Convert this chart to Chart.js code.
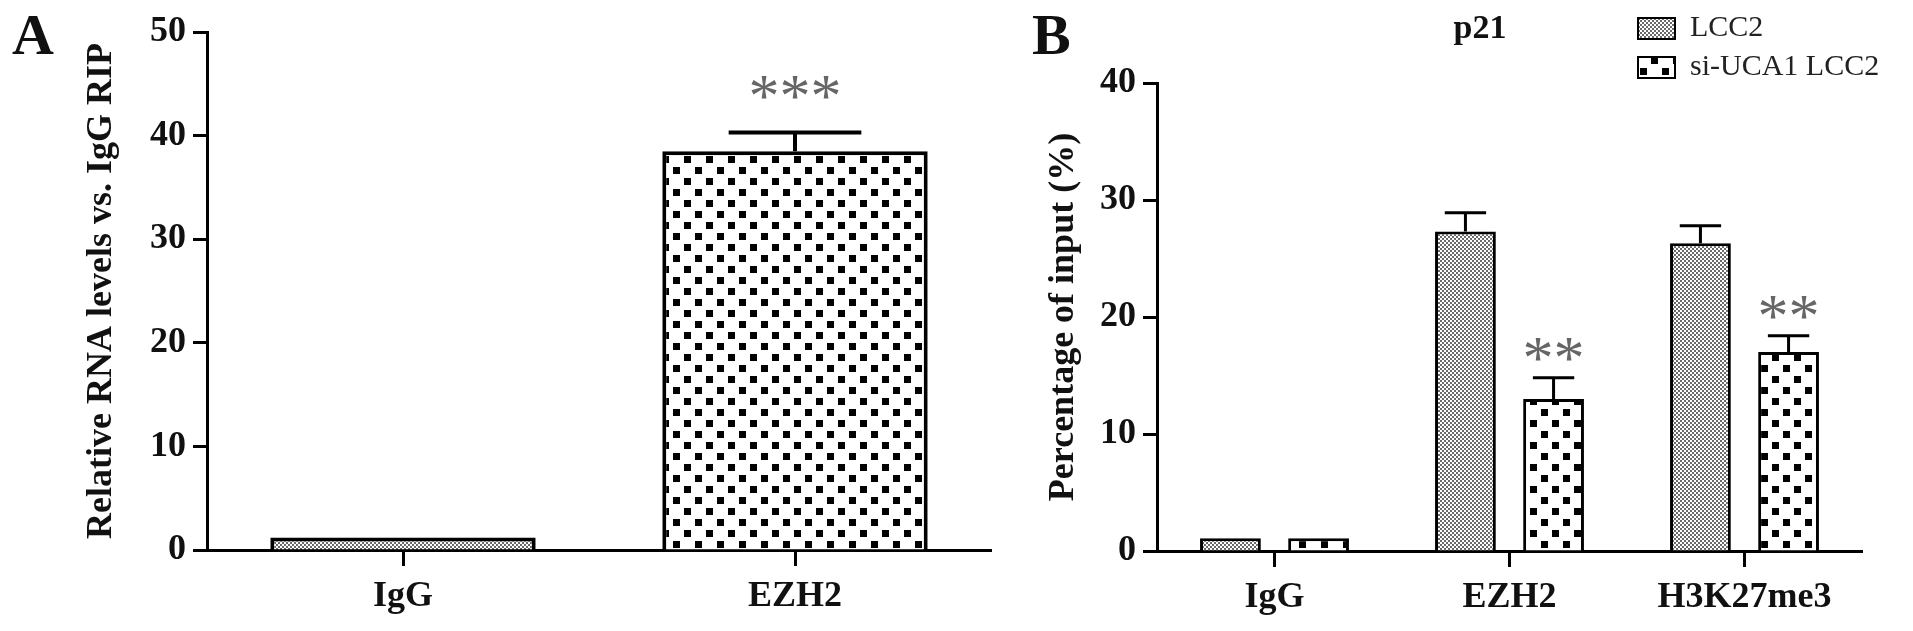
<!DOCTYPE html>
<html>
<head>
<meta charset="utf-8">
<script src="https://cdn.jsdelivr.net/npm/chart.js@4.4.0/dist/chart.umd.min.js"></script>
<style>
  html, body { margin: 0; padding: 0; background: #fff; }
  body { width: 1913px; height: 631px; position: relative; overflow: hidden; }
  .panel { position: absolute; top: 0; height: 631px; }
  #wrapA { left: 0; width: 1000px; }
  #wrapB { left: 1000px; width: 913px; }
  .letter { position: absolute; top: 6px; font: bold 58px 'Liberation Serif', serif; line-height: 1; color: #111; }
</style>
</head>
<body>
<div class="panel" id="wrapA"><canvas id="chartA"></canvas></div>
<div class="panel" id="wrapB"><canvas id="chartB"></canvas></div>
<div class="letter" style="left:12px">A</div>
<div class="letter" style="left:1032px">B</div>
<script>
/* ---------- data: panel A (RIP) ---------- */
const catsA = ['IgG', 'EZH2'];
const valsA = [1.2, 38.5];
const errA = [0, 1.8];
const starsA = ['', '***'];
const starPosA = [null, 44.6];
const yTicksA = [0, 10, 20, 30, 40, 50];

/* ---------- data: panel B (ChIP, p21) ---------- */
const catsB = ['IgG', 'EZH2', 'H3K27me3'];
const lcc2 = [1.1, 27.3, 26.3];
const lcc2Err = [0, 1.6, 1.5];
const siUca1 = [1.1, 13.0, 17.0];
const siUca1Err = [0, 1.8, 1.4];
const starsB = ['', '**', '**'];
const starPosB = [null, 17.2, 20.8];
const yTicksB = [0, 10, 20, 30, 40];

const SERIF = "'Liberation Serif', 'Times New Roman', serif";
const INK = '#111';

/* ---------- fill patterns ---------- */
function makePattern(size, spots, sq, color) {
  const c = document.createElement('canvas');
  c.width = size; c.height = size;
  const g = c.getContext('2d');
  g.fillStyle = '#fff';
  g.fillRect(0, 0, size, size);
  g.fillStyle = color;
  spots.forEach(([x, y]) => g.fillRect(x, y, sq, sq));
  return g.createPattern(c, 'repeat');
}
const finePat = makePattern(4, [[0, 0], [2, 2]], 2, '#6a6a6a');
const checkPat = makePattern(22, [[2, 2], [13, 13]], 7, '#000');

/* ---------- plugins ---------- */
const errorBars = {
  id: 'errorBars',
  afterDatasetsDraw(chart, args, opts) {
    const { ctx } = chart;
    const y = chart.scales.y;
    ctx.save();
    ctx.strokeStyle = '#000';
    ctx.lineWidth = opts.lineWidth || 3;
    chart.data.datasets.forEach((ds, i) => {
      chart.getDatasetMeta(i).data.forEach((bar, j) => {
        const e = ds.errors && ds.errors[j];
        if (!e) return;
        const top = y.getPixelForValue(ds.data[j] + e);
        const half = bar.width * opts.capRatio / 2;
        ctx.beginPath();
        ctx.moveTo(bar.x, bar.y);
        ctx.lineTo(bar.x, top);
        ctx.moveTo(bar.x - half, top);
        ctx.lineTo(bar.x + half, top);
        ctx.stroke();
      });
    });
    ctx.restore();
  }
};

const starMarks = {
  id: 'starMarks',
  afterDatasetsDraw(chart, args, opts) {
    const { ctx } = chart;
    const y = chart.scales.y;
    ctx.save();
    ctx.fillStyle = '#666';
    ctx.font = `${opts.size}px ${SERIF}`;
    ctx.textAlign = 'center';
    ctx.textBaseline = 'alphabetic';
    chart.data.datasets.forEach((ds, i) => {
      if (!ds.stars) return;
      chart.getDatasetMeta(i).data.forEach((bar, j) => {
        const s = ds.stars[j];
        if (!s) return;
        const m = ctx.measureText(s);
        const yc = y.getPixelForValue(ds.starPos[j]);
        ctx.fillText(s, bar.x, yc + (m.actualBoundingBoxAscent - m.actualBoundingBoxDescent) / 2);
      });
    });
    ctx.restore();
  }
};

const boxLegend = {
  id: 'boxLegend',
  afterDraw(chart, args, opts) {
    if (!opts.display) return;
    const { ctx } = chart;
    ctx.save();
    ctx.font = `${opts.size}px ${SERIF}`;
    ctx.textBaseline = 'middle';
    chart.data.datasets.forEach((ds, i) => {
      const top = opts.y + i * opts.gap;
      ctx.fillStyle = ds.backgroundColor;
      ctx.fillRect(opts.x, top, opts.w, opts.h);
      ctx.strokeStyle = '#000';
      ctx.lineWidth = 2;
      ctx.strokeRect(opts.x, top, opts.w, opts.h);
      ctx.fillStyle = '#222';
      ctx.fillText(ds.label, opts.x + opts.w + 15, top + opts.h / 2);
    });
    if (opts.title) {
      ctx.font = `bold ${opts.titleSize}px ${SERIF}`;
      ctx.fillStyle = INK;
      ctx.textAlign = 'center';
      ctx.textBaseline = 'alphabetic';
      ctx.fillText(opts.title, opts.titleX, opts.titleY);
    }
    ctx.restore();
  }
};

/* ---------- shared axis options ---------- */
function yAxis(ticks, title, width, titlePad) {
  return {
    min: ticks[0],
    max: ticks[ticks.length - 1],
    afterFit: s => { s.width = width; },
    border: { display: true, color: '#000', width: 3 },
    grid: { display: true, drawOnChartArea: false, drawTicks: true, tickLength: 14, tickWidth: 3, tickColor: '#000' },
    ticks: { stepSize: 10, padding: 7, color: INK, font: { family: SERIF, size: 36, weight: 'bold' } },
    title: { display: true, text: title, color: INK, padding: { top: titlePad, bottom: 0 }, font: { family: SERIF, size: 36, weight: 'bold' } },
  };
}
function xAxis(height) {
  return {
    afterFit: s => { s.height = height; },
    border: { display: true, color: '#000', width: 3 },
    grid: { display: true, offset: false, drawOnChartArea: false, drawTicks: true, tickLength: 16, tickWidth: 3, tickColor: '#000' },
    ticks: { padding: 9, color: INK, font: { family: SERIF, size: 36, weight: 'bold' }, maxRotation: 0 },
  };
}

/* ---------- Panel A ---------- */
new Chart(document.getElementById('chartA'), {
  type: 'bar',
  data: {
    labels: catsA,
    datasets: [{
      label: 'RIP',
      data: valsA,
      errors: errA,
      stars: starsA,
      starPos: starPosA,
      backgroundColor: [finePat, checkPat],
      borderColor: '#000',
      borderWidth: 4,
      categoryPercentage: 1,
      barPercentage: 0.677,
    }],
  },
  options: {
    responsive: true,
    maintainAspectRatio: false,
    animation: false,
    layout: { padding: { left: 0, right: 9, top: 32, bottom: 0 } },
    scales: { x: xAxis(81), y: yAxis(yTicksA, 'Relative RNA levels vs. IgG RIP', 207, 80) },
    plugins: {
      legend: { display: false },
      tooltip: { enabled: false },
      errorBars: { capRatio: 0.5, lineWidth: 4 },
      starMarks: { size: 62 },
      boxLegend: { display: false },
    },
  },
  plugins: [errorBars, starMarks, boxLegend],
});

/* ---------- Panel B ---------- */
new Chart(document.getElementById('chartB'), {
  type: 'bar',
  data: {
    labels: catsB,
    datasets: [
      {
        label: 'LCC2',
        data: lcc2,
        errors: lcc2Err,
        backgroundColor: finePat,
        borderColor: '#000',
        borderWidth: 3,
        categoryPercentage: 0.75,
        barPercentage: 0.69,
      },
      {
        label: 'si-UCA1 LCC2',
        data: siUca1,
        errors: siUca1Err,
        stars: starsB,
        starPos: starPosB,
        backgroundColor: checkPat,
        borderColor: '#000',
        borderWidth: 3,
        categoryPercentage: 0.75,
        barPercentage: 0.69,
      },
    ],
  },
  options: {
    responsive: true,
    maintainAspectRatio: false,
    animation: false,
    layout: { padding: { left: 0, right: 51, top: 83, bottom: 0 } },
    scales: { x: xAxis(80), y: yAxis(yTicksB, 'Percentage of input (%)', 157, 42) },
    plugins: {
      legend: { display: false },
      tooltip: { enabled: false },
      errorBars: { capRatio: 0.68, lineWidth: 3 },
      starMarks: { size: 62 },
      boxLegend: { display: true, x: 638, y: 18, w: 37, h: 21, gap: 39, size: 30, title: 'p21', titleSize: 34, titleX: 480, titleY: 38 },
    },
  },
  plugins: [errorBars, starMarks, boxLegend],
});
</script>
</body>
</html>
